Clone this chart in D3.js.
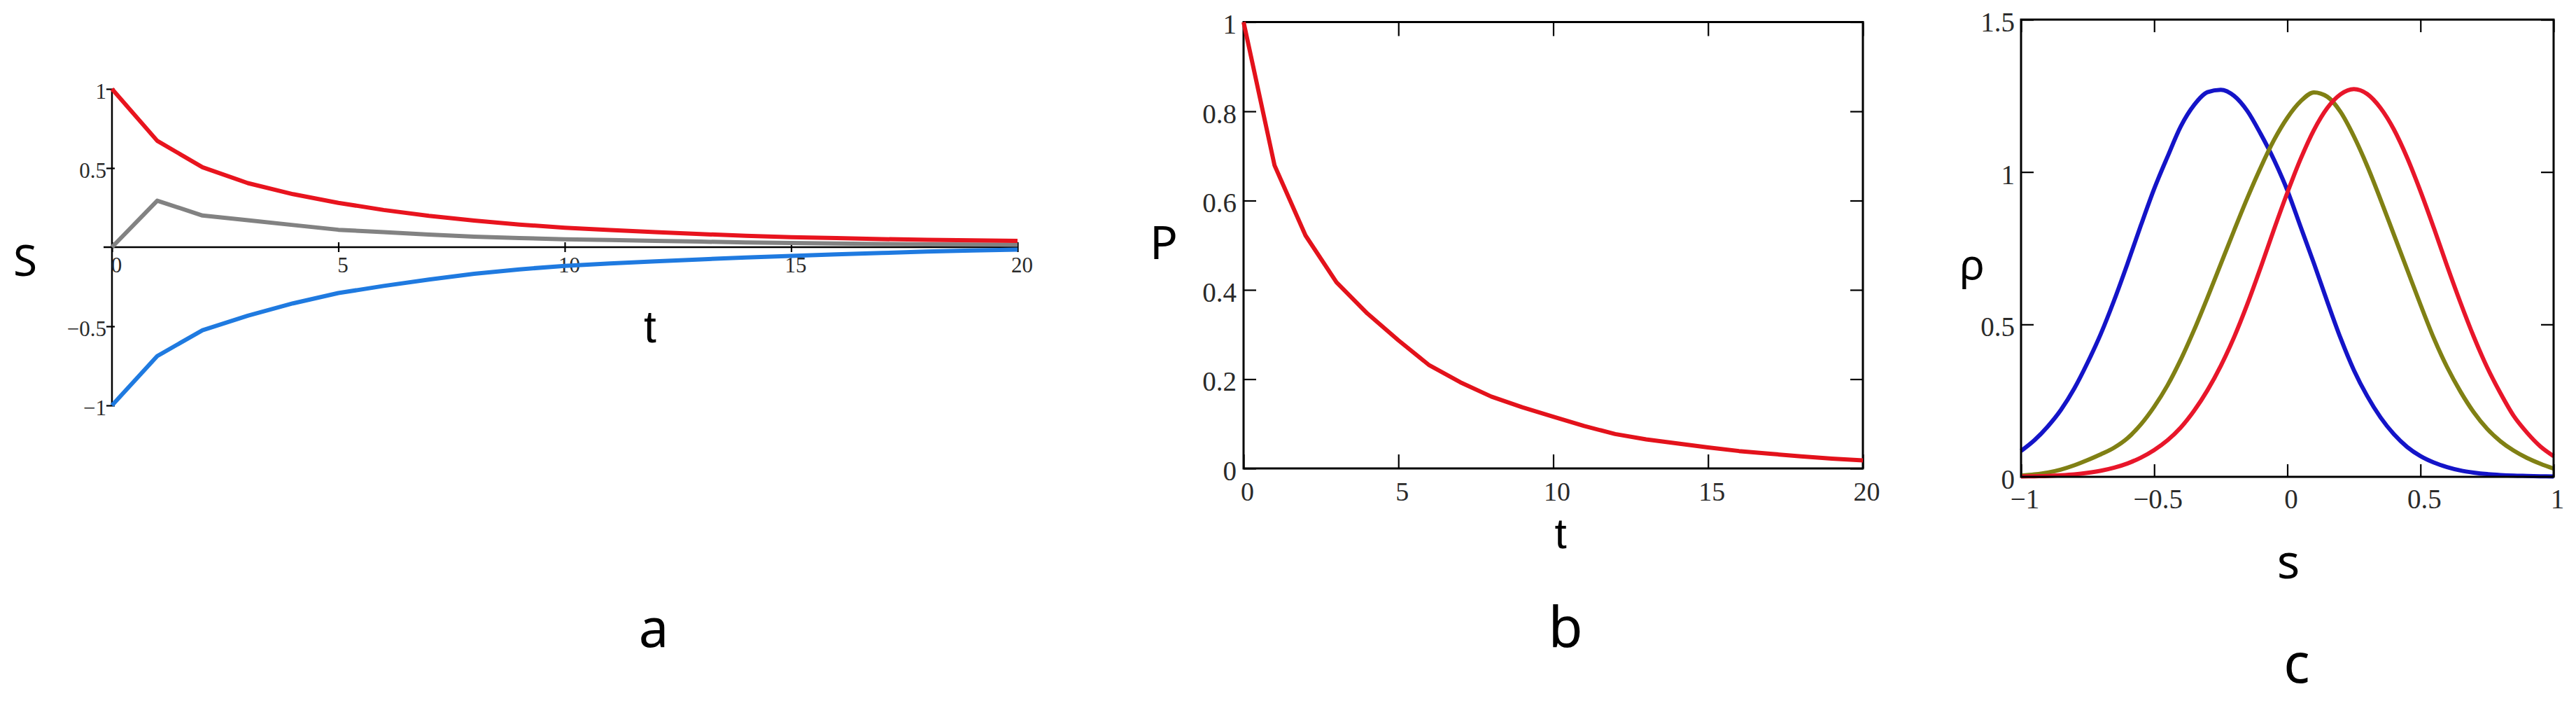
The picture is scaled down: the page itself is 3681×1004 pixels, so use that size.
<!DOCTYPE html>
<html><head><meta charset="utf-8">
<script src="https://cdn.jsdelivr.net/npm/d3@7"></script>
<style>body{margin:0;background:#fff}svg{display:block}</style>
</head><body>
<svg id="chart" width="3681" height="1004"></svg>
<script>
// ---------- Panel a data ----------
const tA = [0,1,2,3,4,5,6,7,8,9,10,11,12,13,14,15,16,17,18,19,20];
const aRed  = [1,0.672,0.505,0.405,0.335,0.28,0.235,0.198,0.168,0.143,0.123,0.108,0.095,0.083,0.072,0.063,0.057,0.051,0.047,0.043,0.04];
const aGray = [0,0.294,0.20,0.17,0.14,0.11,0.095,0.08,0.066,0.058,0.05,0.045,0.04,0.035,0.03,0.026,0.023,0.02,0.018,0.017,0.016];
const aBlue = [-1,-0.688,-0.525,-0.433,-0.355,-0.29,-0.245,-0.205,-0.168,-0.14,-0.118,-0.103,-0.09,-0.077,-0.065,-0.055,-0.045,-0.037,-0.028,-0.021,-0.015];
const aXTicks = [0,5,10,15,20];
const aYTicks = [1,0.5,-0.5,-1];

// ---------- Panel b data ----------
const tB = [0,1,2,3,4,5,6,7,8,9,10,11,12,13,14,15,16,17,18,19,20];
const bP = [1,0.679,0.522,0.417,0.347,0.287,0.231,0.193,0.161,0.137,0.116,0.095,0.077,0.065,0.056,0.047,0.039,0.033,0.027,0.022,0.018];
const bXTicks = [0,5,10,15,20];
const bYTicks = [0,0.2,0.4,0.6,0.8,1];

// ---------- Panel c data ----------
const sC = [-1,-0.95,-0.9,-0.85,-0.8,-0.75,-0.7,-0.65,-0.6,-0.55,-0.5,-0.45,-0.4,-0.35,-0.3,-0.25,-0.2,-0.15,-0.1,-0.05,0,0.05,0.1,0.15,0.2,0.25,0.3,0.35,0.4,0.45,0.5,0.55,0.6,0.65,0.7,0.75,0.8,0.85,0.9,0.95,1];
const cBlue = [0.085,0.12,0.165,0.22,0.29,0.375,0.47,0.58,0.70,0.825,0.945,1.05,1.15,1.22,1.262,1.27,1.25,1.20,1.125,1.04,0.94,0.82,0.70,0.575,0.455,0.35,0.265,0.195,0.14,0.098,0.068,0.047,0.032,0.021,0.014,0.009,0.006,0.004,0.003,0.002,0.001];
const cOlive = [0.004,0.008,0.014,0.024,0.038,0.055,0.074,0.096,0.127,0.172,0.23,0.3,0.385,0.482,0.588,0.698,0.808,0.915,1.015,1.105,1.178,1.232,1.261,1.247,1.197,1.117,1.02,0.91,0.795,0.68,0.565,0.455,0.36,0.28,0.212,0.158,0.117,0.086,0.062,0.043,0.027];
const cRed = [0.001,0.002,0.003,0.005,0.008,0.013,0.02,0.03,0.044,0.063,0.088,0.12,0.162,0.217,0.284,0.364,0.458,0.567,0.687,0.812,0.932,1.043,1.138,1.21,1.255,1.272,1.256,1.21,1.14,1.047,0.937,0.817,0.692,0.572,0.46,0.36,0.275,0.2,0.145,0.1,0.068];
const cXTicks = [-1,-0.5,0,0.5,1];
const cYTicks = [0,0.5,1,1.5];

const fmt = d => String(d).replace("-", "\u2212");
const svg = d3.select("#chart");
const TICKFONT = "'Liberation Serif', serif";
const LABFONT = "'Noto Sans', 'Open Sans', sans-serif";

function styleAxis(g, size) {
  g.select(".domain").remove();
  g.selectAll(".tick line").attr("stroke", "#000").attr("stroke-width", 2.2);
  g.selectAll(".tick text").attr("font-family", TICKFONT).attr("font-size", size).attr("fill", "#2a2a2a");
}
function label(txt, x, y, size, font) {
  svg.append("text").attr("x", x).attr("y", y).attr("text-anchor", "middle")
    .attr("font-family", font || LABFONT).attr("font-size", size).attr("fill", "#000").text(txt);
}

// ================= Panel a =================
const xA = d3.scaleLinear().domain([0, 20]).range([160, 1454]);
const yA = d3.scaleLinear().domain([-1, 1]).range([579, 127]);
const gA = svg.append("g");
gA.append("line").attr("x1", xA(0) - 12).attr("x2", xA(20)).attr("y1", yA(0)).attr("y2", yA(0))
  .attr("stroke", "#000").attr("stroke-width", 2.5);
gA.append("line").attr("x1", xA(0)).attr("x2", xA(0)).attr("y1", yA(1)).attr("y2", yA(-1))
  .attr("stroke", "#000").attr("stroke-width", 2.5);
const axAx = gA.append("g").attr("transform", `translate(0,${yA(0) - 7})`)
  .call(d3.axisBottom(xA).tickValues(aXTicks).tickSize(14).tickFormat(fmt));
styleAxis(axAx, 31);
axAx.selectAll(".tick text").attr("y", 43).attr("dy", 0).attr("dx", 6);
const axAy = gA.append("g").attr("transform", `translate(${xA(0) + 4},0)`)
  .call(d3.axisLeft(yA).tickValues(aYTicks).tickSize(12).tickPadding(0).tickFormat(fmt));
styleAxis(axAy, 31);
axAy.selectAll(".tick text").attr("dy", "0.42em");

const lineA = d3.line().x((d, i) => xA(tA[i])).y(d => yA(d));
[[aGray, "#828282"], [aBlue, "#1f7ae0"], [aRed, "#e8141e"]].forEach(([arr, c]) => {
  gA.append("path").datum(arr).attr("d", lineA).attr("fill", "none")
    .attr("stroke", c).attr("stroke-width", 6).attr("stroke-linejoin", "round");
});
label("S", 36, 394, 62);
label("t", 929, 489, 64, "'Liberation Sans', sans-serif");
label("a", 934, 924, 76);

// ================= Panel b =================
const xB = d3.scaleLinear().domain([0, 20]).range([1777, 2662]);
const yB = d3.scaleLinear().domain([0, 1]).range([669, 31.5]);
const gB = svg.append("g");
const bBot = gB.append("g").attr("transform", `translate(0,${yB(0)})`)
  .call(d3.axisBottom(xB).tickValues(bXTicks).tickSize(-20).tickPadding(19).tickFormat(fmt));
styleAxis(bBot, 38); bBot.selectAll(".tick text").attr("dx", 5);
const bTop = gB.append("g").attr("transform", `translate(0,${yB(1)})`)
  .call(d3.axisTop(xB).tickValues(bXTicks).tickSize(-20).tickFormat(""));
styleAxis(bTop, 38);
const bLeft = gB.append("g").attr("transform", `translate(${xB(0)},0)`)
  .call(d3.axisLeft(yB).tickValues(bYTicks).tickSize(-18).tickPadding(10).tickFormat(fmt));
styleAxis(bLeft, 39); bLeft.selectAll(".tick text").attr("dy", "0.42em");
const bRight = gB.append("g").attr("transform", `translate(${xB(20)},0)`)
  .call(d3.axisRight(yB).tickValues(bYTicks).tickSize(-18).tickFormat(""));
styleAxis(bRight, 38);
gB.append("rect").attr("x", xB(0)).attr("y", yB(1)).attr("width", xB(20) - xB(0)).attr("height", yB(0) - yB(1))
  .attr("fill", "none").attr("stroke", "#000").attr("stroke-width", 3);
const lineB = d3.line().x((d, i) => xB(tB[i])).y(d => yB(d));
gB.append("path").datum(bP).attr("d", lineB).attr("fill", "none")
  .attr("stroke", "#e3121b").attr("stroke-width", 6).attr("stroke-linejoin", "round");
label("P", 1663, 370, 66);
label("t", 2230, 783, 62, "'Liberation Sans', sans-serif");
label("b", 2237, 924, 80);

// ================= Panel c =================
const xC = d3.scaleLinear().domain([-1, 1]).range([2888, 3649]);
const yC = d3.scaleLinear().domain([0, 1.5]).range([681, 28]);
const gC = svg.append("g");
const cBot = gC.append("g").attr("transform", `translate(0,${yC(0)})`)
  .call(d3.axisBottom(xC).tickValues(cXTicks).tickSize(-18).tickPadding(17).tickFormat(fmt));
styleAxis(cBot, 39); cBot.selectAll(".tick text").attr("dx", 5);
const cTop = gC.append("g").attr("transform", `translate(0,${yC(1.5)})`)
  .call(d3.axisTop(xC).tickValues(cXTicks).tickSize(-18).tickFormat(""));
styleAxis(cTop, 39);
const cLeft = gC.append("g").attr("transform", `translate(${xC(-1)},0)`)
  .call(d3.axisLeft(yC).tickValues(cYTicks).tickSize(-18).tickPadding(9).tickFormat(fmt));
styleAxis(cLeft, 39); cLeft.selectAll(".tick text").attr("dy", "0.42em");
const cRight = gC.append("g").attr("transform", `translate(${xC(1)},0)`)
  .call(d3.axisRight(yC).tickValues(cYTicks).tickSize(-18).tickFormat(""));
styleAxis(cRight, 39);
const lineC = d3.line().x((d, i) => xC(sC[i])).y(d => yC(d)).curve(d3.curveMonotoneX);
[[cBlue, "#1414c8"], [cOlive, "#808014"], [cRed, "#e8162a"]].forEach(([arr, c]) => {
  gC.append("path").datum(arr).attr("d", lineC).attr("fill", "none")
    .attr("stroke", c).attr("stroke-width", 6).attr("stroke-linejoin", "round");
});
gC.append("rect").attr("x", xC(-1)).attr("y", yC(1.5)).attr("width", xC(1) - xC(-1)).attr("height", yC(0) - yC(1.5))
  .attr("fill", "none").attr("stroke", "#000").attr("stroke-width", 3);
label("\u03C1", 2818, 399, 60);
label("s", 3270, 826, 68);
label("c", 3282, 975, 78);
</script>
</body></html>
